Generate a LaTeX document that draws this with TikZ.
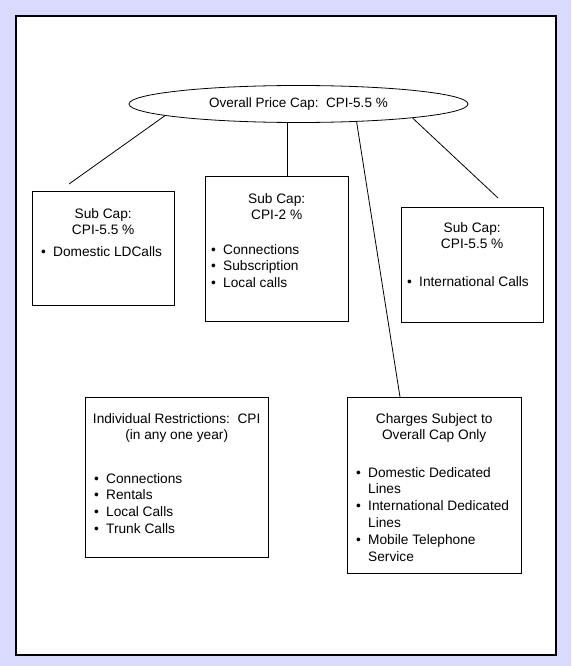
\documentclass[tikz,border=0pt]{standalone}
\usepackage{fontspec}
\setmainfont{Liberation Sans}
\usetikzlibrary{shapes.geometric}
\definecolor{lav}{RGB}{218,218,255}
\newcommand{\bul}[1]{\par\noindent\hangindent=12pt\hangafter=1\makebox[12pt][l]{\textbullet}#1}
\begin{document}
\begin{tikzpicture}[x=1pt,y=-1pt,
  box/.style={draw=black, line width=1pt, fill=white, inner sep=0pt, anchor=north west},
  txt/.style={font=\fontsize{13.7}{16.8}\selectfont, inner sep=0pt, anchor=base west},
  conn/.style={draw=black, line width=0.8pt}]
\fill[lav] (0,0) rectangle (571,666);
\useasboundingbox (0,0) rectangle (571,666);
\draw[line width=2.4pt, fill=white] (16,16) rectangle (556,655);

% top ellipse
\node[draw, ellipse, line width=0.8pt, fill=white, inner sep=0pt,
      minimum width=339pt, minimum height=37pt,
      font=\fontsize{13.5}{16}\selectfont] (top) at (298.5,104)
      {Overall Price Cap:\ \ CPI-5.5 \%};

% boxes
\node[box, minimum width=142pt, minimum height=114pt] (b1) at (32,191) {};
\node[box, minimum width=143pt, minimum height=145pt] (b2) at (205,176) {};
\node[box, minimum width=142pt, minimum height=115pt] (b3) at (401,207) {};
\node[box, minimum width=183pt, minimum height=160pt] (b4) at (85,397) {};
\node[box, minimum width=174pt, minimum height=176pt] (b5) at (347,397) {};

% texts
\node[txt] (t1) at (36,218) {\parbox[t]{134pt}{\centering Sub Cap:\\CPI-5.5 \%\par\vspace{4.4pt}\raggedright\leftskip=5pt
  \bul{Domestic LDCalls}}};
\node[txt] (t2) at (209,203) {\parbox[t]{135pt}{\centering Sub Cap:\\CPI-2 \%\par\vspace{17.4pt}\raggedright\leftskip=2pt
  \bul{Connections}\bul{Subscription}\bul{Local calls}}};
\node[txt] (t3) at (405,232) {\parbox[t]{134pt}{\centering Sub Cap:\\CPI-5.5 \%\par\vspace{20.4pt}\raggedright\leftskip=2pt
  \bul{International Calls}}};
\node[txt] (t4) at (89,423) {\parbox[t]{175pt}{\centering Individual Restrictions:\ \ CPI\\(in any one year)\par\vspace{26.4pt}\raggedright\leftskip=5pt
  \bul{Connections}\bul{Rentals}\bul{Local Calls}\bul{Trunk Calls}}};
\node[txt] (t5) at (351,423) {\parbox[t]{166pt}{\centering Charges Subject to\\Overall Cap Only\par\vspace{20.4pt}\raggedright\leftskip=5pt
  \bul{Domestic Dedicated\newline Lines}\bul{International Dedicated\newline Lines}\bul{Mobile Telephone\newline Service}}};

% connectors
\coordinate (e1) at (69,184);
\coordinate (e3) at (498,198);
\coordinate (vx) at (287,0);
\coordinate (lx) at (400,0);
\draw[conn] (top.185) -- (e1);
\draw[conn] (top.south -| vx) -- (b2.north -| vx);
\draw[conn] (top.343.4) -- (b5.north -| lx);
\draw[conn] (top.353.4) -- (e3);
\end{tikzpicture}
\end{document}
